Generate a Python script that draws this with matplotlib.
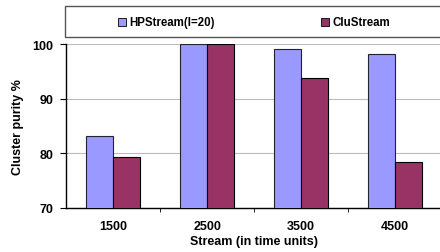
import numpy as np
import matplotlib
matplotlib.use("Agg")
import matplotlib.pyplot as plt
from matplotlib.patches import Rectangle

streams = ["1500", "2500", "3500", "4500"]
hpstream = [83.1, 100.0, 99.1, 98.2]
clustream = [79.3, 100.0, 93.7, 78.4]

plt.rcParams['font.family'] = ['Liberation Sans', 'DejaVu Sans']
plt.rcParams['font.weight'] = 'bold'

fig = plt.figure(figsize=(4.4, 2.53), dpi=100)
ax = fig.add_axes([0.15, 0.174, 0.855, 0.648])

x = np.arange(len(streams))
w = 0.29
ax.bar(x - w/2, hpstream, w, color='#9999FF', edgecolor='#222233', linewidth=0.8,
       label='HPStream(l=20)', zorder=3)
ax.bar(x + w/2, clustream, w, color='#993366', edgecolor='black', linewidth=0.8,
       label='CluStream', zorder=3)

ax.set_ylim(70, 100)
ax.set_xlim(-0.5, len(streams) - 0.5)
ax.set_yticks([70, 80, 90, 100])
ax.set_xticks(x)
ax.set_xticklabels(streams)
ax.set_xticks(np.arange(0.5, len(streams) - 0.5, 1), minor=True)
ax.tick_params(axis='x', which='major', length=0, pad=9, labelsize=9)
ax.tick_params(axis='x', which='minor', length=3, direction='out')
ax.tick_params(axis='y', length=4, direction='out', labelsize=9, pad=5)
ax.yaxis.grid(True, color='#bbbbbb', linewidth=0.8, zorder=0)
for s in ['top', 'right']:
    ax.spines[s].set_visible(False)
ax.spines['left'].set_linewidth(1.0)
ax.spines['bottom'].set_linewidth(1.0)

ax.set_ylabel('Cluster purity %', fontsize=9, fontweight='bold', labelpad=6)
ax.set_xlabel('Stream (in time units)', fontsize=9, fontweight='bold', labelpad=2)

# legend box across the top
fig.patches.append(Rectangle((65/440, 1 - 38/253), 380/440, 31/253,
                             transform=fig.transFigure, facecolor='white',
                             edgecolor='#555555', linewidth=1.0))
fig.patches.append(Rectangle((118/440, 1 - 27/253), 8/440, 8/253,
                             transform=fig.transFigure, facecolor='#9999FF',
                             edgecolor='black', linewidth=0.6))
fig.text(129/440, 1 - 23/253, 'HPStream(l=20)', fontsize=8.3, fontweight='bold',
         va='center', ha='left')
fig.patches.append(Rectangle((321/440, 1 - 27/253), 8/440, 8/253,
                             transform=fig.transFigure, facecolor='#993366',
                             edgecolor='black', linewidth=0.6))
fig.text(332/440, 1 - 23/253, 'CluStream', fontsize=8.3, fontweight='bold',
         va='center', ha='left')

fig.savefig('out.png', dpi=100)
